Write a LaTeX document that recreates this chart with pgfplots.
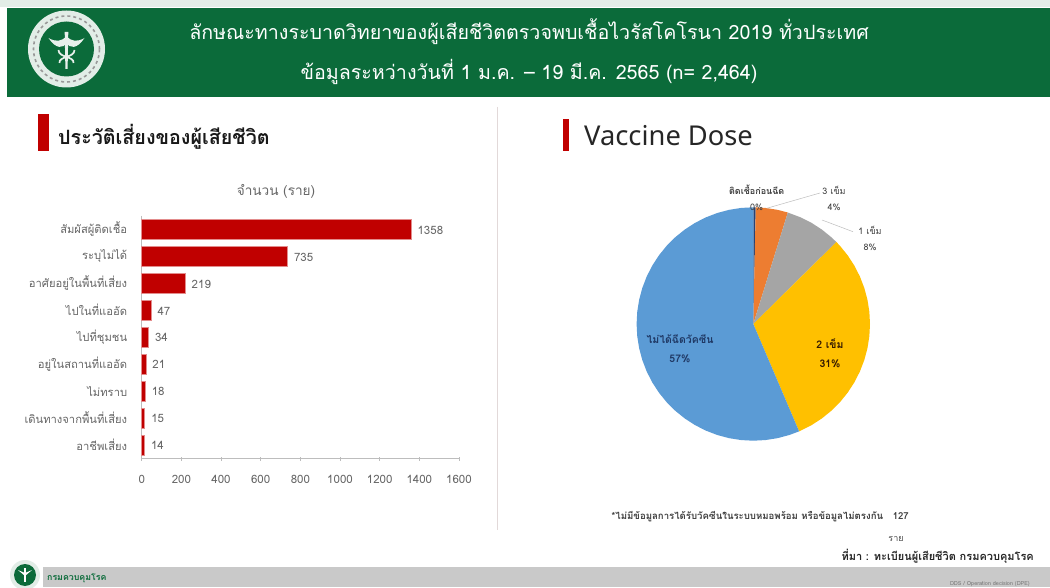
\documentclass[border=0pt]{standalone}
\usepackage{fontspec}
\setmainfont[Script=Thai]{Loma}
\newfontfamily\latinfont{Noto Sans}
\usepackage{pgfplots}
\usepackage{pgfplotstable}
\pgfplotsset{compat=1.18}
\usepgfplotslibrary{polar}
\definecolor{headgreen}{HTML}{0B6B3A}
\definecolor{barred}{HTML}{C00000}
\definecolor{greytext}{HTML}{666666}
\definecolor{axisgrey}{HTML}{BDBDBD}
\definecolor{slblue}{HTML}{5B9BD5}
\definecolor{slorange}{HTML}{ED7D31}
\definecolor{slgrey}{HTML}{A5A5A5}
\definecolor{slyellow}{HTML}{FFC000}
\definecolor{slnavy}{HTML}{264478}
\definecolor{labelnavy}{HTML}{1F3864}
\definecolor{footgrey}{HTML}{C9C9C9}

% Deaths by risk history
\pgfplotstableread{
pos count
0 1358
1 735
2 219
3 47
4 34
5 21
6 18
7 15
8 14
}\risktable

% Helper for the page's absolute text, in pixel-like coordinates measured from the top
\newcommand{\tx}[4][]{\node[inner sep=0pt,#1] at (#2,587-#3) {#4};}

\begin{document}
\begin{tikzpicture}[x=1pt,y=1pt]
\path[use as bounding box] (0,0) rectangle (1050,587);
\fill[white] (0,0) rectangle (1050,587);

% Header band
\fill[headgreen!12] (0,587) rectangle (1050,580);
\fill[headgreen] (7,579) rectangle (1050,490);
\tx[text=white,font=\fontsize{19.65}{20}\selectfont]{529}{32}{ลักษณะทางระบาดวิทยาของผู้เสียชีวิตตรวจพบเชื้อไวรัสโคโรนา 2019 ทั่วประเทศ}
\tx[text=white,font=\fontsize{19.65}{20}\selectfont]{529}{72}{ข้อมูลระหว่างวันที่ 1 ม.ค. -- 19 มี.ค. 2565 (n= 2,464)}

% Ministry emblem
\begin{scope}[shift={(66.5,538)}]
\fill[white!88!headgreen] (0,0) circle (38.5);
\fill[headgreen] (0,0) circle (27.5);
\draw[black!40,dashed,line width=1.6pt] (0,0) circle (33);
\fill[white!90!headgreen] (-1.8,17) -- (1.8,17) -- (1.1,-20) -- (-1.1,-20) -- cycle;
\fill[white!90!headgreen] (-18,11) .. controls (-10,-1) and (-3,1) .. (0,6) .. controls (3,1) and (10,-1) .. (18,11) .. controls (11,7) and (5,7) .. (0,13) .. controls (-5,7) and (-11,7) .. (-18,11) -- cycle;
\draw[white!90!headgreen,line width=1.7pt] (-8,-1) .. controls (-8,-9) and (8,-7) .. (7,-14);
\draw[white!90!headgreen,line width=1.7pt] (8,-1) .. controls (8,-9) and (-8,-7) .. (-7,-14);
\end{scope}

% Section headings
\fill[barred] (38,436) rectangle (49,473);
\tx[anchor=west,font=\fontsize{19.7}{21}\bfseries\selectfont,text=black!90]{58}{137}{ประวัติเสี่ยงของผู้เสียชีวิต}
\fill[barred] (563,436) rectangle (569,468);
\tx[anchor=west,font=\fontsize{27.3}{28}\latinfont\selectfont,text=black!85]{584}{136}{Vaccine Dose}
\draw[red!25!black!15,line width=0.9pt] (497,480) -- (497,57);

% Risk history bars
\begin{axis}[
  at={(141.7pt,128.5pt)}, anchor=south west,
  scale only axis, width=317.3pt, height=242.7pt,
  xmin=0, xmax=1600, ymin=-0.5, ymax=8.5, y dir=reverse,
  axis x line=bottom, axis y line=left,
  axis line style={axisgrey,line width=0.9pt,-},
  tick style={axisgrey,line width=0.7pt},
  xtick={0,200,...,1600},
  major tick length=4pt,
  ytick={0,...,8},
  yticklabels={สัมผัสผู้ติดเชื้อ,ระบุไม่ได้,อาศัยอยู่ในพื้นที่เสี่ยง,ไปในที่แออัด,ไปที่ชุมชน,อยู่ในสถานที่แออัด,ไม่ทราบ,เดินทางจากพื้นที่เสี่ยง,อาชีพเสี่ยง},
  yticklabel style={font=\fontsize{11.2}{12}\selectfont,text=greytext,xshift=-7pt},
  y tick style={draw=none},
  xticklabel style={font=\fontsize{11.5}{12}\selectfont,text=greytext,yshift=-11pt},
  /pgf/number format/assume math mode=true,
  /pgf/number format/1000 sep={},
  xbar, bar width=19.7pt,
  nodes near coords,
  nodes near coords style={font=\fontsize{11.5}{12}\selectfont,text=greytext,anchor=west,xshift=3pt,yshift=-0.7pt},
  clip=false,
]
\addplot[fill=barred,draw=barred!45!white,line width=0.5pt] table[x=count,y=pos] {\risktable};
\end{axis}
\tx[font=\fontsize{13.6}{14}\selectfont,text=greytext]{276}{191}{จำนวน (ราย)}

% Vaccine dose pie: angles in degrees, slices bounded by the dose shares
\begin{polaraxis}[
  at={(753.3pt,263pt)}, anchor=origin,
  scale only axis, width=233.4pt, height=233.4pt,
  xmin=0, xmax=360, ymin=0, ymax=1,
  hide axis, clip=false,
]
\addplot[fill=slnavy,draw=none] coordinates {(0,0) (90,1) (88.8,1)};
\addplot[fill=slorange,draw=none] coordinates {(0,0) (88.8,1) (84,1) (78,1) (72.8,1)};
\addplot[fill=slgrey,draw=none] coordinates {(0,0) (72.8,1) (66,1) (60,1) (54,1) (48,1) (44.6,1)};
\addplot[fill=slyellow,draw=none] coordinates {(0,0) (44.6,1) (42,1) (36,1) (30,1) (24,1) (18,1) (12,1) (6,1) (0,1) (-6,1) (-12,1) (-18,1) (-24,1) (-30,1) (-36,1) (-42,1) (-48,1) (-54,1) (-60,1) (-66.9,1)};
\addplot[fill=slblue,draw=none] coordinates {(0,0) (-66.9,1) (-72,1) (-78,1) (-84,1) (-90,1) (-96,1) (-102,1) (-108,1) (-114,1) (-120,1) (-126,1) (-132,1) (-138,1) (-144,1) (-150,1) (-156,1) (-162,1) (-168,1) (-174,1) (-180,1) (-186,1) (-192,1) (-198,1) (-204,1) (-210,1) (-216,1) (-222,1) (-228,1) (-234,1) (-240,1) (-246,1) (-252,1) (-258,1) (-264,1) (-270,1)};
\end{polaraxis}

% Pie labels and leader lines
\draw[axisgrey,line width=0.5pt] (766.7,378.7) -- (820,394);
\draw[axisgrey,line width=0.5pt] (822,367) -- (853,355.3);
\tx[font=\fontsize{9}{10}\bfseries\selectfont,text=black!75]{756.7}{190}{ติดเชื้อก่อนฉีด}
\tx[font=\fontsize{9}{10}\selectfont,text=black!75]{756.7}{207}{0\%}
\tx[font=\fontsize{9}{10}\selectfont,text=black!75]{834}{190}{3 เข็ม}
\tx[font=\fontsize{9}{10}\selectfont,text=black!75]{834}{207}{4\%}
\tx[font=\fontsize{9}{10}\selectfont,text=black!75]{870}{230}{1 เข็ม}
\tx[font=\fontsize{9}{10}\selectfont,text=black!75]{870}{247}{8\%}
\tx[font=\fontsize{10.5}{11}\bfseries\selectfont,text=black!80!orange]{830}{344}{2 เข็ม}
\tx[font=\fontsize{10.5}{11}\bfseries\selectfont,text=black!80!orange]{830}{364}{31\%}
\tx[font=\fontsize{10.5}{11}\bfseries\selectfont,text=labelnavy]{680}{339}{ไม่ได้ฉีดวัคซีน}
\tx[font=\fontsize{10.5}{11}\bfseries\selectfont,text=labelnavy]{680}{359}{57\%}

% Notes
\tx[anchor=east,font=\fontsize{9.6}{10}\bfseries\selectfont,text=black!75]{909}{517}{*ไม่มีข้อมูลการได้รับวัคซีนในระบบหมอพร้อม หรือข้อมูลไม่ตรงกัน\quad 127}
\tx[font=\fontsize{9}{10}\selectfont,text=black!70]{896}{539}{ราย}
\tx[anchor=east,font=\fontsize{11}{12}\bfseries\selectfont,text=black!85]{1034}{556}{ที่มา : ทะเบียนผู้เสียชีวิต กรมควบคุมโรค}

% Footer band
\fill[footgrey] (43,0) rectangle (1050,20);
\fill[white!88!headgreen] (25,12) circle (15);
\fill[headgreen] (25,12) circle (11);
\fill[white] (24.2,19) rectangle (25.8,5);
\fill[white] (18,17) -- (25,11) -- (32,17) -- (25,14) -- cycle;
\tx[anchor=west,font=\fontsize{8.8}{9}\bfseries\selectfont,text=headgreen]{47}{578}{กรมควบคุมโรค}
\tx[anchor=east,font=\fontsize{5.5}{6}\selectfont,text=black!55]{1030}{584}{DDS / Operation decision (DPE)}
\end{tikzpicture}
\end{document}
